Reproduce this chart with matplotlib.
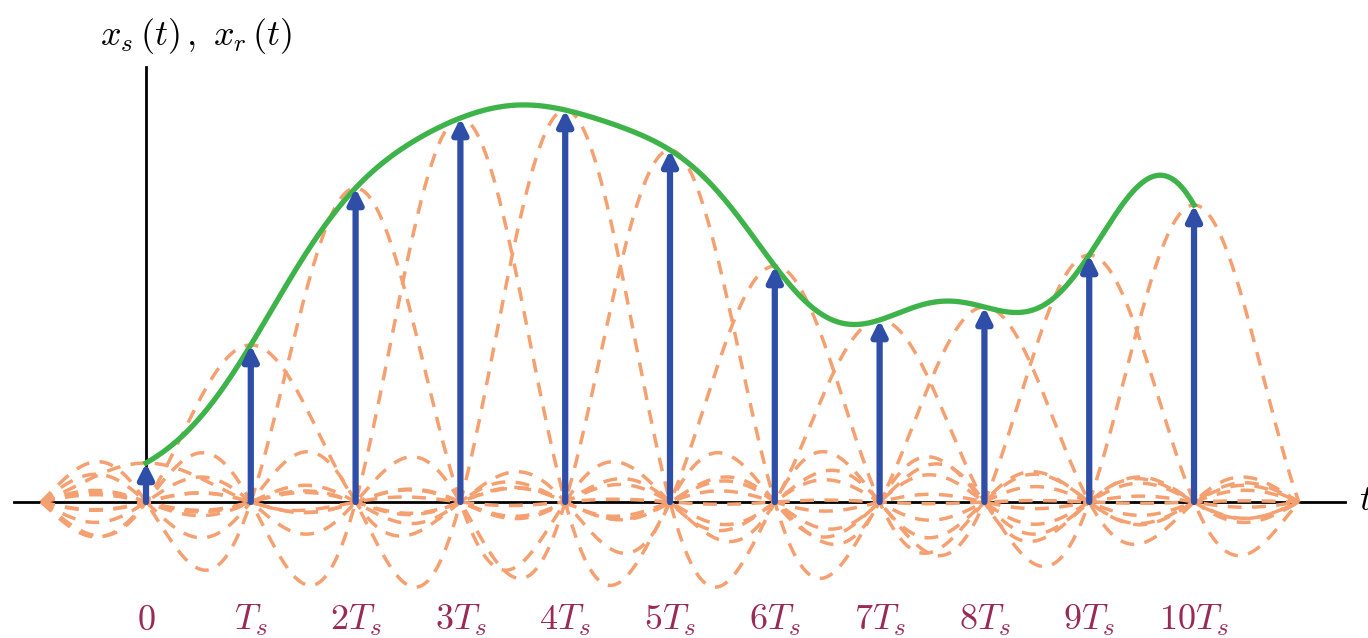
import numpy as np
import matplotlib
matplotlib.use("Agg")
import matplotlib.pyplot as plt

plt.rcParams['mathtext.fontset'] = 'cm'

# sample index n (t = n*Ts) and sample values x[n]
sample_n = [0, 1, 2, 3, 4, 5, 6, 7, 8, 9, 10]
sample_vals = [0.39, 1.57, 3.14, 3.84, 3.92, 3.52, 2.36, 1.82, 1.95, 2.47, 2.97]
tick_labels = ['$0$', '$T_s$', '$2T_s$', '$3T_s$', '$4T_s$', '$5T_s$',
               '$6T_s$', '$7T_s$', '$8T_s$', '$9T_s$', '$10T_s$']

blue = '#2f4ea8'
green = '#3db34a'
orange = '#f5a070'
tickcol = '#9a2a55'

fig = plt.figure(figsize=(13.68, 6.38), dpi=100)
ax = fig.add_axes([0, 0, 1, 1])
ax.set_xlim(-1.393, 11.66)
ax.set_ylim(-1.36, 5.02)
ax.axis('off')

# orange sinc pulses, one per sample
t_sinc = np.linspace(-1, 11, 1200)
for n, v in zip(sample_n, sample_vals):
    ax.plot(t_sinc, v * np.sinc(t_sinc - n), color=orange, lw=2.5,
            dashes=(4, 3), zorder=2)

# axes lines
ax.plot([-1.255, 11.44], [0, 0], color='black', lw=2, zorder=1)
ax.plot([0, 0], [0, 4.35], color='black', lw=2, zorder=1)

# reconstructed signal (sum of sincs)
t_rec = np.linspace(0, 10, 1000)
x_rec = np.zeros_like(t_rec)
for n, v in zip(sample_n, sample_vals):
    x_rec += v * np.sinc(t_rec - n)
ax.plot(t_rec, x_rec, color=green, lw=3.8, zorder=3)

# sample arrows
for n, v in zip(sample_n, sample_vals):
    ax.annotate('', xy=(n, v), xytext=(n, 0),
                arrowprops=dict(arrowstyle='-|>', color=blue, lw=4.5,
                                mutation_scale=22, shrinkA=0, shrinkB=0),
                zorder=4)

# tick labels
for n, lab in zip(sample_n, tick_labels):
    ax.text(n, -1.18, lab, color=tickcol, fontsize=26, ha='center', va='center')

ax.text(11.57, 0.02, '$t$', fontsize=26, ha='left', va='center')
ax.text(0.48, 4.66, r'$x_s\,(t)\,,\ x_r\,(t)$', fontsize=26, ha='center', va='center')

fig.savefig('out.png', dpi=100)
